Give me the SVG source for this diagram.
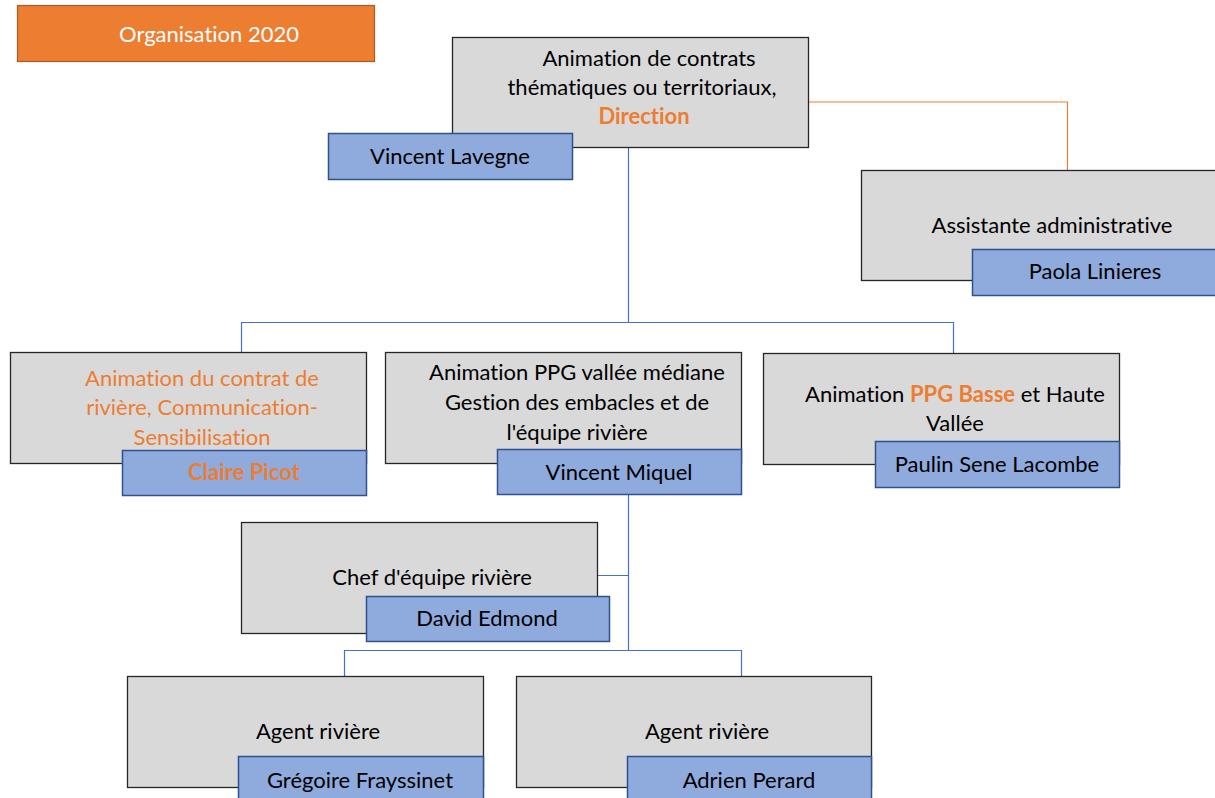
<svg xmlns="http://www.w3.org/2000/svg" width="1215" height="798" viewBox="0 0 1215 798">
<style>
.role{fill:#D9D9D9;stroke:#262626;stroke-width:1.3}
.name{fill:#8FAADC;stroke:#2F528F;stroke-width:1.5}
text{font-family:Lato,"Open Sans","Liberation Sans",sans-serif;font-size:22px;fill:#000;text-anchor:middle;font-variant-ligatures:none;font-feature-settings:"liga" 0,"dlig" 0}
.or{fill:#ED7D31}
.b{font-weight:bold}
.conn{fill:none;stroke:#4472C4;stroke-width:1.2}
.conn2{fill:none;stroke:#ED7D31;stroke-width:1.2}
</style>
<rect width="1215" height="798" fill="#fff"/>
<g id="connectors">
<path class="conn2" d="M808 102 H1067.5 V170"/>
<path class="conn" d="M628.5 147 V322.5 M241.5 352 V322.5 H953.5 V353"/>
<path class="conn" d="M628.5 495 V650.5 M598 575.5 H628.5 M344.5 676 V650.5 H741.5 V676"/>
</g>
<g id="title">
<rect x="17.5" y="5.5" width="357" height="56" fill="#ED7D31" stroke="#AE5A21" stroke-width="1.2"/>
<text x="209" y="42" style="fill:#fff">Organisation 2020</text>
</g>
<g id="direction">
<rect class="role" x="452.5" y="37.5" width="356" height="110"/>
<text x="649" y="66">Animation de contrats</text>
<text x="642" y="95">thématiques ou territoriaux,</text>
<text x="644" y="124" class="or b">Direction</text>
</g>
<g id="vincent-lavegne">
<rect class="name" x="328.5" y="133.5" width="244" height="46"/>
<text x="450" y="164">Vincent Lavegne</text>
</g>
<g id="assistante">
<rect class="role" x="861.5" y="170.5" width="360" height="110"/>
<text x="1052" y="233">Assistante administrative</text>
</g>
<g id="paola">
<rect class="name" x="972.5" y="249.5" width="250" height="46"/>
<text x="1095" y="279">Paola Linieres</text>
</g>
<g id="contrat-riviere">
<rect class="role" x="10.5" y="352.5" width="356" height="111"/>
<text x="202" y="386" class="or">Animation du contrat de</text>
<text x="202" y="415" class="or">rivière, Communication-</text>
<text x="202" y="445" class="or">Sensibilisation</text>
</g>
<g id="claire-picot">
<rect class="name" x="122.5" y="450.5" width="244" height="45"/>
<text x="244" y="480" class="or b">Claire Picot</text>
</g>
<g id="ppg-mediane">
<rect class="role" x="385.5" y="352.5" width="356" height="111"/>
<text x="577" y="380">Animation PPG vallée médiane</text>
<text x="577" y="410">Gestion des embacles et de</text>
<text x="577" y="440">l'équipe rivière</text>
</g>
<g id="vincent-miquel">
<rect class="name" x="497.5" y="449.5" width="244" height="45"/>
<text x="619" y="480">Vincent Miquel</text>
</g>
<g id="ppg-basse">
<rect class="role" x="763.5" y="353.5" width="356" height="111"/>
<text x="955" y="402">Animation <tspan class="or b">PPG Basse</tspan> et Haute</text>
<text x="955" y="431">Vallée</text>
</g>
<g id="paulin">
<rect class="name" x="875.5" y="441.5" width="244" height="46"/>
<text x="997" y="472">Paulin Sene Lacombe</text>
</g>
<g id="chef-equipe">
<rect class="role" x="241.5" y="522.5" width="356" height="111"/>
<text x="432" y="585">Chef d'équipe rivière</text>
</g>
<g id="david-edmond">
<rect class="name" x="366.5" y="596.5" width="243" height="45"/>
<text x="487" y="626">David Edmond</text>
</g>
<g id="agent1">
<rect class="role" x="127.5" y="676.5" width="356" height="111"/>
<text x="318" y="739">Agent rivière</text>
</g>
<g id="gregoire">
<rect class="name" x="238.5" y="756.5" width="245" height="50"/>
<text x="360" y="788">Grégoire Frayssinet</text>
</g>
<g id="agent2">
<rect class="role" x="516.5" y="676.5" width="355" height="111"/>
<text x="707" y="739">Agent rivière</text>
</g>
<g id="adrien">
<rect class="name" x="627.5" y="756.5" width="244" height="50"/>
<text x="749" y="788">Adrien Perard</text>
</g>
</svg>
